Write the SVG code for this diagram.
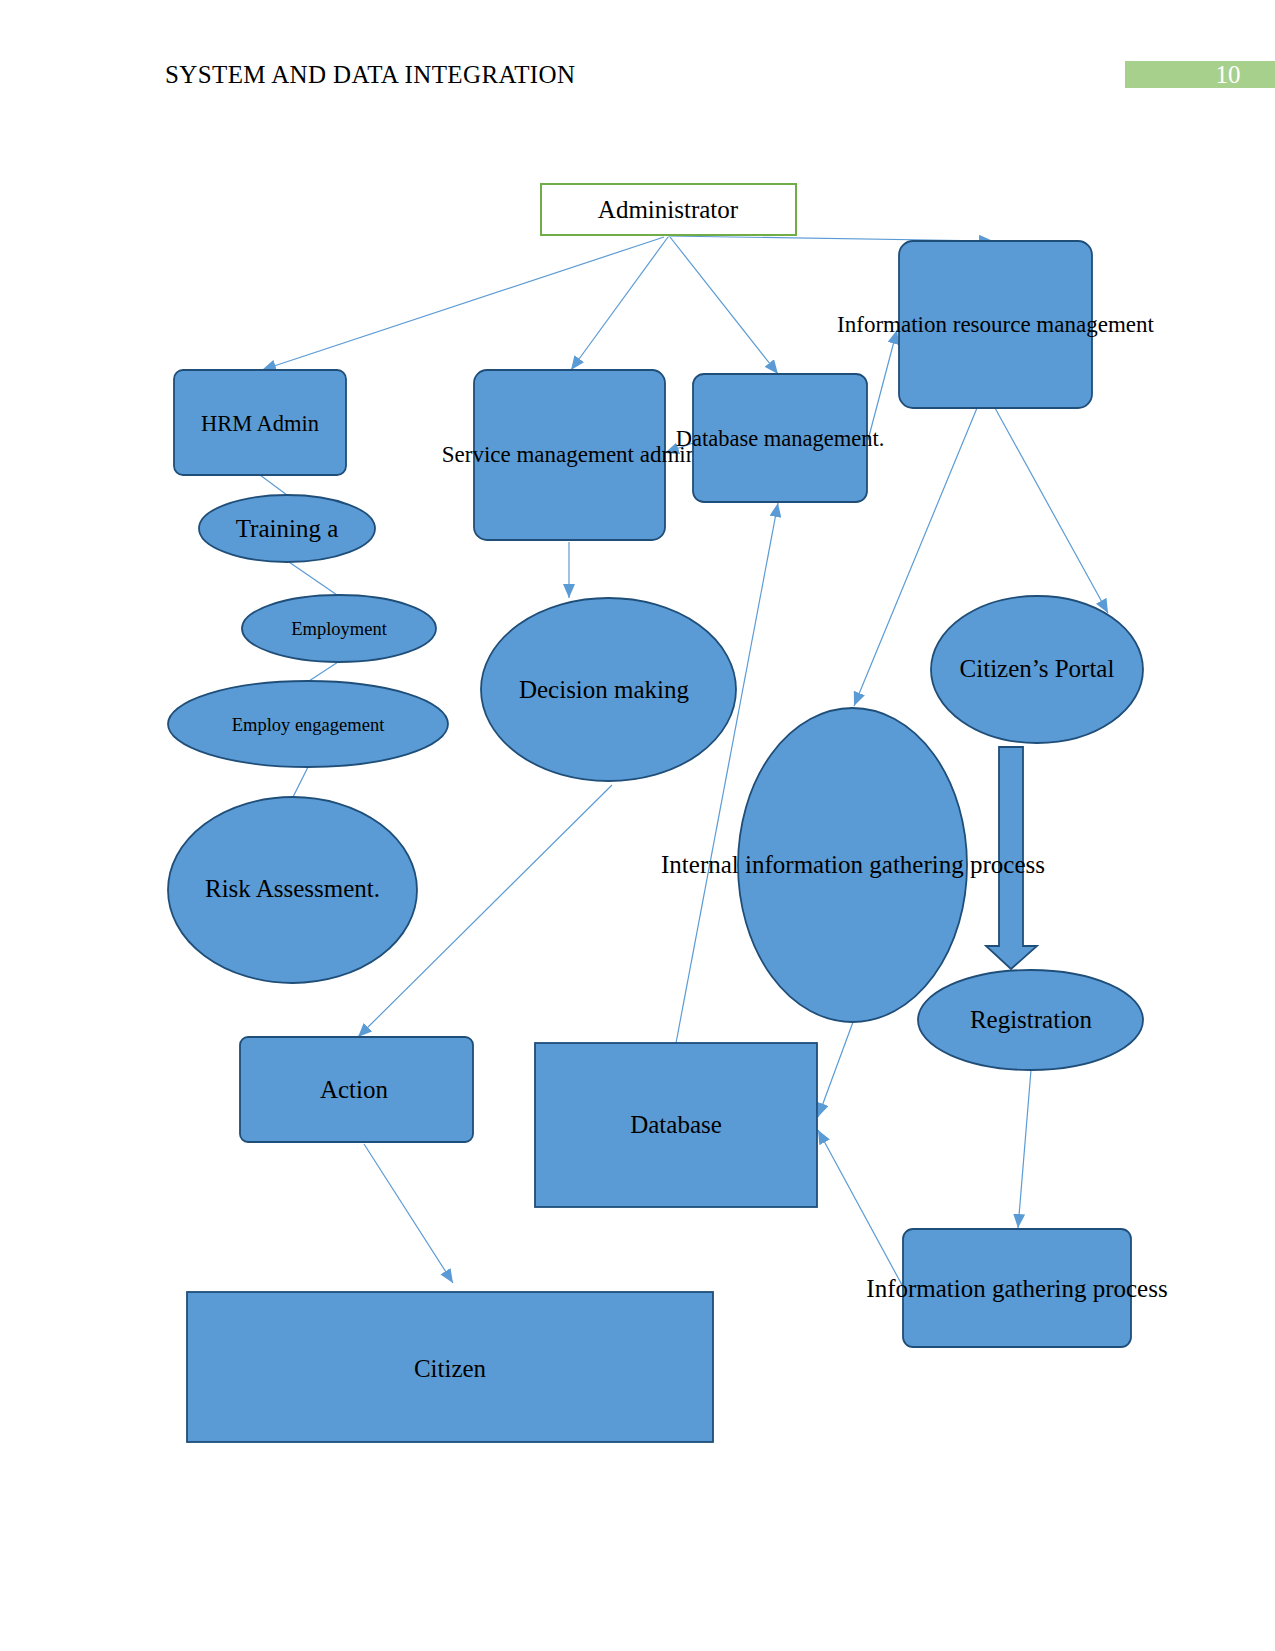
<svg xmlns="http://www.w3.org/2000/svg" width="1275" height="1651" viewBox="0 0 1275 1651">
<defs>
<marker id="ah" markerUnits="userSpaceOnUse" viewBox="0 0 14 12" refX="14" refY="6" markerWidth="14" markerHeight="12" orient="auto">
<path d="M0,0 L14,6 L0,12 z" fill="#5B9BD5"/>
</marker>
</defs>
<style>
text{font-family:"Liberation Serif","Times New Roman",serif;fill:#000}
.n{fill:#5B9BD5;stroke:#1F4E79;stroke-width:1.8}
.c line{stroke:#5B9BD5;stroke-width:1.2;fill:none}
.a{marker-end:url(#ah)}
.l{font-size:25px;text-anchor:middle}
.m{font-size:22.5px;text-anchor:middle}
.s{font-size:18.5px;text-anchor:middle}
</style>
<rect width="1275" height="1651" fill="#fff"/>
<g id="header">
<text x="165" y="83" textLength="410" lengthAdjust="spacing" style="font-size:25px">SYSTEM AND DATA INTEGRATION</text>
<rect x="1125" y="61" width="150" height="27" fill="#A8D08D"/>
<text x="1228" y="83" style="font-size:25px;text-anchor:middle;fill:#fff">10</text>
</g>
<g id="connectors" class="c">
<polygon points="999,747 1023,747 1023,946 1037,946 1011,969 986,946 999,946" class="n"/>
<line class="a" x1="664" y1="237" x2="262" y2="370"/>
<line class="a" x1="668" y1="237" x2="571" y2="370"/>
<line class="a" x1="670" y1="237" x2="778" y2="374"/>
<line class="a" x1="668" y1="236" x2="993" y2="241"/>
<line x1="260" y1="475" x2="287" y2="495"/>
<line x1="289" y1="562" x2="337" y2="595"/>
<line x1="338" y1="662" x2="309" y2="681"/>
<line x1="308" y1="767" x2="293" y2="797"/>
<line class="a" x1="569" y1="542" x2="569" y2="598"/>
<line class="a" x1="612" y1="785" x2="358" y2="1037"/>
<line class="a" x1="364" y1="1144" x2="453" y2="1283"/>
<line class="a" x1="676" y1="1043" x2="778" y2="503"/>
<line class="a" x1="693" y1="443" x2="665" y2="453"/>
<line class="a" x1="868" y1="440" x2="897" y2="330"/>
<line class="a" x1="977" y1="408" x2="854" y2="706"/>
<line class="a" x1="995" y1="408" x2="1108" y2="613"/>
<line class="a" x1="853" y1="1022" x2="818" y2="1117"/>
<line class="a" x1="902" y1="1285" x2="818" y2="1130"/>
<line class="a" x1="1031" y1="1070" x2="1018" y2="1228"/>
</g>
<g id="administrator">
<rect x="541" y="184" width="255" height="51" fill="#fff" stroke="#70AD47" stroke-width="2"/>
<text class="l" x="668" y="218">Administrator</text>
</g>
<g id="hrm-admin">
<rect class="n" x="174" y="370" width="172" height="105" rx="9"/>
<text class="m" x="260" y="431">HRM Admin</text>
</g>
<g id="training">
<ellipse class="n" cx="287" cy="528.5" rx="88" ry="33.5"/>
<text class="l" x="287" y="537">Training a</text>
</g>
<g id="employment">
<ellipse class="n" cx="339" cy="628.5" rx="97" ry="33.5"/>
<text class="s" x="339" y="635">Employment</text>
</g>
<g id="employ-engagement">
<ellipse class="n" cx="308" cy="724" rx="140" ry="43"/>
<text class="s" x="308" y="731">Employ engagement</text>
</g>
<g id="risk-assessment">
<ellipse class="n" cx="292.5" cy="890" rx="124.5" ry="93"/>
<text class="l" x="292.5" y="897">Risk Assessment.</text>
</g>
<g id="service-management">
<rect class="n" x="474" y="370" width="191" height="170" rx="13"/>
<text class="m" x="569.5" y="462" style="font-size:23px">Service management admin</text>
</g>
<g id="database-management">
<rect class="n" x="693" y="374" width="174" height="128" rx="11"/>
<text class="m" x="780" y="446">Database management.</text>
</g>
<g id="information-resource-management">
<rect class="n" x="899" y="241" width="193" height="167" rx="14"/>
<text class="m" x="995.5" y="332" style="font-size:23px">Information resource management</text>
</g>
<g id="decision-making">
<ellipse class="n" cx="608.5" cy="689.5" rx="127.5" ry="91.5"/>
<text class="l" x="604" y="698">Decision making</text>
</g>
<g id="citizens-portal">
<ellipse class="n" cx="1037" cy="669.5" rx="106" ry="73.5"/>
<text class="l" x="1037" y="677">Citizen’s Portal</text>
</g>
<g id="internal-information-gathering">
<ellipse class="n" cx="852.5" cy="865" rx="114.5" ry="157"/>
<text class="l" x="853" y="873">Internal information gathering process</text>
</g>
<g id="registration">
<ellipse class="n" cx="1030.5" cy="1020" rx="112.5" ry="50"/>
<text class="l" x="1031" y="1028">Registration</text>
</g>
<g id="action">
<rect class="n" x="240" y="1037" width="233" height="105" rx="8"/>
<text class="l" x="354" y="1098">Action</text>
</g>
<g id="database">
<rect class="n" x="535" y="1043" width="282" height="164"/>
<text class="l" x="676" y="1133">Database</text>
</g>
<g id="information-gathering-process">
<rect class="n" x="903" y="1229" width="228" height="118" rx="10"/>
<text class="l" x="1017" y="1297">Information gathering process</text>
</g>
<g id="citizen">
<rect class="n" x="187" y="1292" width="526" height="150"/>
<text class="l" x="450" y="1377">Citizen</text>
</g>
</svg>
